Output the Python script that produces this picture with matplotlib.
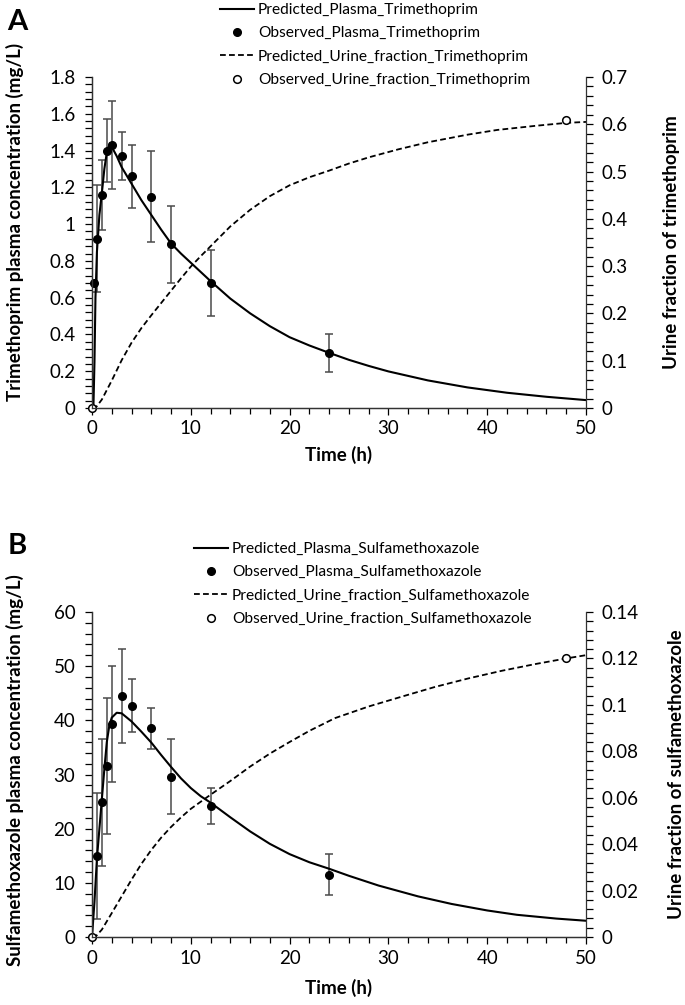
import matplotlib
matplotlib.use("Agg")
import matplotlib.pyplot as plt
from matplotlib.ticker import MultipleLocator, FuncFormatter
import numpy as np

plt.rcParams['font.family'] = ['Lato', 'DejaVu Sans']

# ---- panel A: trimethoprim ----
tmp_pred_t = [0, 0.15, 0.25, 0.35, 0.5, 0.75, 1.0, 1.25, 1.5, 1.8, 2.0, 2.5, 3, 4, 5, 6, 7, 8, 9, 10,
              12, 14, 16, 18, 20, 22, 24, 26, 28, 30, 34, 38, 42, 46, 50]
tmp_pred_plasma = [0, 0.02, 0.25, 0.6, 0.85, 1.05, 1.17, 1.30, 1.39, 1.44, 1.42, 1.37, 1.31, 1.22, 1.13,
                   1.05, 0.97, 0.895, 0.84, 0.79, 0.69, 0.595, 0.515, 0.445, 0.385, 0.34, 0.30, 0.262,
                   0.229, 0.199, 0.15, 0.112, 0.083, 0.061, 0.043]
tmp_obs_t = [0.25, 0.5, 1, 1.5, 2, 3, 4, 6, 8, 12, 24]
tmp_obs_plasma = [0.68, 0.92, 1.16, 1.40, 1.43, 1.37, 1.26, 1.15, 0.89, 0.68, 0.30]
tmp_obs_err = [0, 0.29, 0.19, 0.17, 0.24, 0.13, 0.17, 0.245, 0.21, 0.18, 0.105]
tmp_urine_t = [0, 0.5, 1, 2, 3, 4, 5, 6, 7, 8, 9, 10, 11, 12, 14, 16, 18, 20, 22, 24, 26, 28, 31, 34,
               38, 41, 45, 48, 50]
tmp_pred_urine = [0, 0.004, 0.018, 0.058, 0.101, 0.138, 0.169, 0.196, 0.222, 0.248, 0.274, 0.299, 0.321,
                  0.342, 0.384, 0.419, 0.448, 0.471, 0.488, 0.502, 0.517, 0.530, 0.547, 0.562, 0.578,
                  0.588, 0.597, 0.603, 0.605]
tmp_obs_urine_t = [0, 48]
tmp_obs_urine = [0, 0.61]

# ---- panel B: sulfamethoxazole ----
smx_pred_t = [0, 0.25, 0.5, 0.75, 1, 1.25, 1.5, 1.75, 2, 2.5, 3, 4, 5, 6, 7, 8, 9, 10, 11, 12, 14, 16,
              18, 20, 22, 24, 26, 29, 33, 36.4, 40, 43, 47, 50]
smx_pred_plasma = [0, 6.5, 14.5, 20, 25.5, 31, 36, 39, 40.5, 41.4, 41.3, 39.8, 37.9, 35.9, 33.6, 31.4,
                   29.3, 27.5, 26.0, 24.8, 22.1, 19.5, 17.2, 15.3, 13.8, 12.6, 11.3, 9.5, 7.5, 6.1, 4.9,
                   4.1, 3.4, 3.0]
smx_obs_t = [0.5, 1, 1.5, 2, 3, 4, 6, 8, 12, 24]
smx_obs_plasma = [14.9, 24.9, 31.6, 39.4, 44.5, 42.7, 38.5, 29.6, 24.2, 11.5]
smx_obs_err = [11.6, 11.7, 12.6, 10.7, 8.6, 4.9, 3.7, 6.9, 3.4, 3.8]
smx_urine_t = [0, 0.5, 1, 2, 3, 4, 5, 6, 7, 8, 9, 10, 12, 14, 16, 18, 20, 22, 24.6, 28, 31.4, 34.7,
               38.1, 41.5, 44.9, 48, 50]
smx_pred_urine = [0, 0.0008, 0.0032, 0.0103, 0.0175, 0.0247, 0.0315, 0.0375, 0.0428, 0.0474, 0.0515,
                  0.0552, 0.0613, 0.0672, 0.0734, 0.0790, 0.0840, 0.0888, 0.0943, 0.0993, 0.1036,
                  0.1077, 0.1114, 0.1147, 0.1176, 0.1200, 0.1214]
smx_obs_urine_t = [0, 48]
smx_obs_urine = [0, 0.12]

W, H = 685, 1005
fig = plt.figure(figsize=(W / 100, H / 100), dpi=100)

fmt = FuncFormatter(lambda v, p: '{:g}'.format(round(v, 4)))
dash = (0, (3.2, 1.8))
ecol = '#4a4a4a'
FS = 13.5


def style_axis(ax, which):
    ax.tick_params(which='both', direction='out', labelsize=FS, width=0.9, colors='black', pad=4)
    ax.tick_params(which='major', length=5)
    ax.tick_params(which='minor', length=4)
    ax.tick_params(axis='y', which='both', length=5, pad=7 if which == 'left' else 6)
    for s in ax.spines.values():
        s.set_linewidth(0.9)
        s.set_color('#333333')
    ax.spines['top'].set_visible(False)
    if which == 'left':
        ax.spines['right'].set_visible(False)
    ax.yaxis.set_major_formatter(fmt)


def panel(box, letter, letter_y, name, lname, rname,
          pt, pp, ot, op, oe, ut, pu, out, ou,
          ymax, ymaj, rmax, rmaj, leg_x, leg_y, lab_y, rlab_x, xpad):
    ax = fig.add_axes(box)
    ax2 = ax.twinx()
    l1, = ax.plot(pt, pp, color='black', lw=1.5, zorder=3)
    oe_arr = np.array(oe, dtype=float)
    m = oe_arr > 0
    ax.errorbar(np.array(ot)[m], np.array(op)[m], yerr=oe_arr[m], fmt='none', ecolor=ecol,
                elinewidth=1.1, capsize=2.8, capthick=1.1, zorder=2)
    l2, = ax.plot(ot, op, 'o', color='black', ms=5.5, ls='none', zorder=4, clip_on=False)
    l3, = ax2.plot(ut, pu, color='black', lw=1.3, ls=dash)
    l4, = ax2.plot(out, ou, 'o', mfc='white', mec='black', mew=1.1, ms=5.5, ls='none', clip_on=False)

    ax.set_xlim(0, 50)
    ax.set_ylim(0, ymax)
    ax2.set_ylim(0, rmax)
    ax.xaxis.set_major_locator(MultipleLocator(10))
    ax.xaxis.set_minor_locator(MultipleLocator(2))
    ax.yaxis.set_major_locator(MultipleLocator(ymaj))
    ax.yaxis.set_minor_locator(MultipleLocator(ymaj / 5))
    ax2.yaxis.set_major_locator(MultipleLocator(rmaj))
    ax2.yaxis.set_minor_locator(MultipleLocator(rmaj / 5))
    style_axis(ax, 'left')
    style_axis(ax2, 'right')
    ax.xaxis.set_major_formatter(fmt)

    ax.set_xlabel('Time (h)', fontsize=FS, fontweight='bold', labelpad=xpad)
    fig.text(15 / W, 1 - lab_y / H, lname, rotation=90, fontsize=FS, fontweight='bold',
             ha='center', va='center')
    fig.text(rlab_x / W, box[1] + box[3] / 2, rname, rotation=90, fontsize=FS, fontweight='bold',
             ha='center', va='center')
    fig.text(17 / W, 1 - letter_y / H, letter, fontsize=21, fontweight='bold',
             ha='center', va='center')

    ax.legend([l1, l2, l3, l4],
              ['Predicted_Plasma_' + name, 'Observed_Plasma_' + name,
               'Predicted_Urine_fraction_' + name, 'Observed_Urine_fraction_' + name],
              loc='upper left', bbox_to_anchor=(leg_x / W, 1 - leg_y / H),
              bbox_transform=fig.transFigure, frameon=False, fontsize=11.2,
              handlelength=2.2, handletextpad=0.25, labelspacing=0.6, borderpad=0,
              borderaxespad=0)
    return ax, ax2


panel([92 / W, 1 - 408 / H, 494 / W, 331 / H], 'A', 22, 'Trimethoprim',
      'Trimethoprim plasma concentration (mg/L)', 'Urine fraction of trimethoprim',
      tmp_pred_t, tmp_pred_plasma, tmp_obs_t, tmp_obs_plasma, tmp_obs_err,
      tmp_urine_t, tmp_pred_urine, tmp_obs_urine_t, tmp_obs_urine,
      1.8, 0.2, 0.7, 0.1, 220, 3, 222, 671, 6)

panel([92 / W, 1 - 937 / H, 494 / W, 325 / H], 'B', 546, 'Sulfamethoxazole',
      'Sulfamethoxazole plasma concentration (mg/L)', 'Urine fraction of sulfamethoxazole',
      smx_pred_t, smx_pred_plasma, smx_obs_t, smx_obs_plasma, smx_obs_err,
      smx_urine_t, smx_pred_urine, smx_obs_urine_t, smx_obs_urine,
      60, 10, 0.14, 0.02, 194, 542, 770, 676, 9)

fig.savefig('out.png', dpi=100)
